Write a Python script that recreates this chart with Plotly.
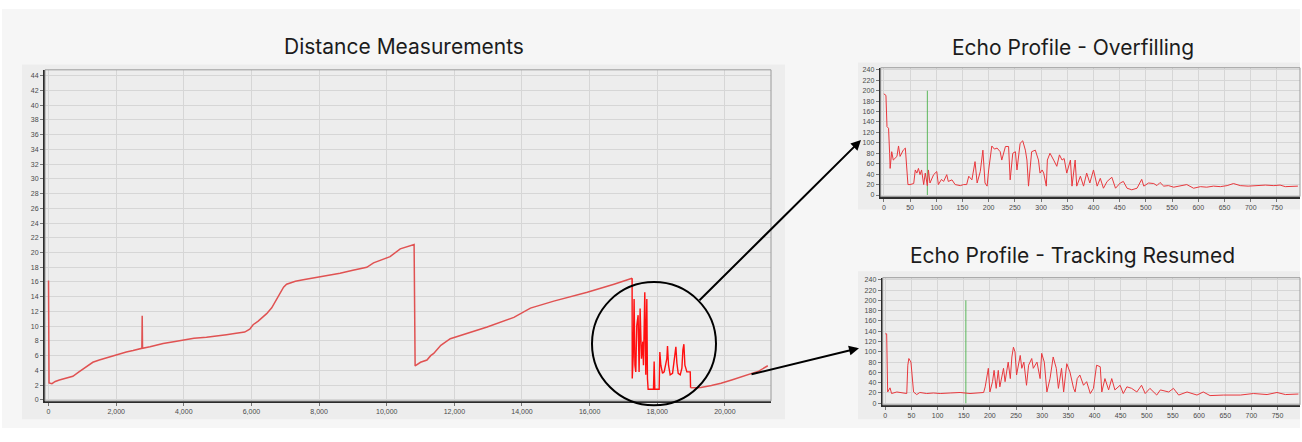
import plotly.graph_objects as go

W, H = 1302, 442

# ---------------- data ----------------
# Distance measurements (main chart)
dist_x = [0, 15, 100, 200, 320, 500, 720, 900, 1100, 1310, 1500, 1700, 2000, 2300, 2500, 2690, 2760, 2770, 2780,
          3000, 3390, 3700, 3980, 4300, 4670, 4800, 5000, 5260, 5500, 5800, 5950, 6050, 6200, 6450, 6600, 6800,
          6950, 7040, 7300, 7530, 8030, 8620, 9000, 9410, 9610, 10100, 10400, 10600, 10810,
          10840, 11000, 11190, 11300, 11390, 11600, 11880, 12280, 12970, 13760, 14250, 14940, 15930, 16720,
          17000, 17256]
dist_y = [16.2, 2.3, 2.2, 2.5, 2.7, 2.9, 3.2, 3.8, 4.4, 5.1, 5.4, 5.7, 6.15, 6.5, 6.7, 6.95, 7.0, 11.4, 7.0,
          7.2, 7.65, 7.9, 8.15, 8.35, 8.5, 8.6, 8.65, 8.85, 9.0, 9.2, 9.6, 10.2, 10.7, 11.7, 12.5, 14.2,
          15.3, 15.7, 16.1, 16.3, 16.7, 17.2, 17.6, 18.0, 18.6, 19.45, 20.5, 20.8, 21.1,
          4.6, 5.1, 5.4, 6.0, 6.3, 7.4, 8.3, 8.85, 9.9, 11.2, 12.45, 13.4, 14.6, 15.7,
          16.1, 16.5]

over_x = [17256, 17260, 17290, 17315, 17340, 17365, 17394, 17434, 17463, 17493, 17533, 17572, 17592, 17631,
          17661, 17691, 17710, 17730, 17888, 17908, 17928, 18056, 18076, 18106, 18155, 18204, 18283, 18303,
          18333, 18382, 18452, 18521, 18550, 18580, 18619, 18679, 18728, 18758, 18787, 18817, 18876, 18975,
          18985]
over_y = [16.5, 2.9, 6.0, 13.7, 4.7, 3.8, 10.1, 11.5, 3.8, 12.4, 5.6, 7.9, 4.7, 14.6,
          3.4, 13.7, 2.9, 1.44, 1.44, 5.2, 1.44, 1.44, 6.5, 4.7, 3.6, 3.8, 5.6, 7.3,
          4.7, 3.4, 3.6, 6.0, 7.2, 5.0, 3.6, 3.4, 4.3, 6.8, 7.55, 4.7, 3.8, 3.8,
          1.65]

resume_x = [18985, 19290, 19600, 19884, 20200, 20675, 21000, 21268]
resume_y = [1.65, 1.67, 1.95, 2.25, 2.7, 3.37, 3.9, 4.63]

dist_xticks = [0, 2000, 4000, 6000, 8000, 10000, 12000, 14000, 16000, 18000, 20000]
dist_yticks = list(range(0, 46, 2))

# Echo profile - overfilling
echo1_x = [0, 4, 6, 9, 11, 12, 15, 18, 25, 28, 31, 37, 41, 43, 46, 50, 57, 60, 63, 66, 69, 72, 76, 79, 83, 85,
           88, 95, 101, 104, 110, 114, 120, 123, 130, 136, 146, 152, 158, 162, 168, 174, 178, 184, 189, 193,
           197, 200, 206, 211, 216, 222, 225, 232, 238, 241, 246, 251, 254, 260, 265, 270, 273, 276, 282, 289,
           295, 298, 302, 305, 310, 312, 317, 324, 330, 335, 340, 344, 349, 356, 359, 365, 368, 375, 381, 387,
           393, 400, 407, 413, 419, 426, 435, 442, 451, 457, 464, 473, 483, 492, 496, 505, 515, 521, 527, 534,
           543, 553, 565, 578, 591, 604, 616, 629, 642, 655, 667, 680, 695, 712, 728, 744, 756, 766, 790]
echo1_y = [194, 191, 131, 128, 80, 51, 83, 67, 74, 94, 74, 86, 90, 67, 20, 20, 22, 48, 42, 51, 39, 48, 20, 42,
           18, 48, 23, 39, 45, 20, 30, 26, 39, 26, 29, 20, 18, 20, 20, 36, 29, 64, 23, 45, 86, 23,
           17, 48, 94, 88, 90, 83, 67, 93, 93, 29, 80, 83, 48, 99, 104, 86, 67, 17, 83, 86,
           67, 42, 48, 42, 17, 67, 80, 67, 55, 77, 67, 70, 42, 67, 17, 67, 17, 36, 17, 42,
           23, 48, 17, 32, 13, 26, 34, 13, 23, 26, 13, 10, 13, 30, 17, 23, 22, 18, 24, 17,
           18, 15, 17, 20, 13, 16, 15, 17, 16, 18, 22, 18, 17, 18, 19, 18, 19, 16, 17]
echo1_marker_x = [83, 83]
echo1_marker_y = [0, 200]

# Echo profile - tracking resumed
echo2_x = [0, 2.6, 4.5, 9, 12, 22, 41, 43, 45, 49, 54, 60, 66, 79, 92, 105, 124, 143, 162, 181, 188,
           191, 197, 200, 205, 208, 212, 216, 219, 226, 229, 235, 239, 242, 245, 248, 251, 258, 261, 265,
           270, 274, 280, 283, 290, 296, 299, 304, 309, 315, 321, 327, 331, 337, 341, 347, 353, 360, 363,
           367, 372, 379, 385, 392, 398, 404, 411, 414, 420, 427, 433, 439, 449, 455, 462, 471, 481, 490,
           497, 506, 519, 526, 542, 551, 561, 577, 596, 608, 621, 647, 679, 704, 730, 749, 765, 790]
echo2_y = [135, 135, 22, 30, 19, 22, 19, 74, 87, 80, 22, 17, 21, 19, 20, 19, 20, 21, 19, 20, 21,
           32, 68, 22, 42, 64, 29, 64, 32, 68, 42, 80, 48, 90, 109, 100, 55, 93, 68, 80,
           35, 74, 87, 68, 80, 48, 97, 80, 22, 48, 90, 68, 29, 68, 22, 77, 61, 29, 22,
           48, 55, 35, 42, 19, 29, 74, 71, 22, 48, 26, 48, 26, 35, 19, 32, 29, 22, 35,
           19, 29, 16, 26, 22, 29, 16, 22, 16, 22, 15, 16, 16, 19, 17, 21, 17, 18]
echo2_marker_x = [154, 154]
echo2_marker_y = [0, 200]

echo_xticks = list(range(0, 800, 50))
echo_yticks = list(range(0, 260, 20))

# ---------------- layout helpers ----------------
def dx(a, b):
    return [a / W, b / W]

def dy(top, bottom):
    return [1 - bottom / H, 1 - top / H]

TICKFONT = dict(family="Liberation Sans, Arial, sans-serif", size=7, color="#4a4a4a")
GRID = "#d6d6d6"
AXLINE = "#2b2b2b"

fig = go.Figure()

fig.add_trace(go.Scatter(x=dist_x, y=dist_y, mode="lines", line=dict(color="#e05252", width=1.5),
                         xaxis="x", yaxis="y", hoverinfo="skip"))
fig.add_trace(go.Scatter(x=over_x, y=over_y, mode="lines", line=dict(color="#ff1010", width=1.4),
                         xaxis="x", yaxis="y", hoverinfo="skip"))
fig.add_trace(go.Scatter(x=resume_x, y=resume_y, mode="lines", line=dict(color="#e05252", width=1.5),
                         xaxis="x", yaxis="y", hoverinfo="skip"))

fig.add_trace(go.Scatter(x=echo1_marker_x, y=echo1_marker_y, mode="lines", line=dict(color="#5cb85c", width=1),
                         xaxis="x2", yaxis="y2", hoverinfo="skip"))
fig.add_trace(go.Scatter(x=echo1_x, y=echo1_y, mode="lines", line=dict(color="#e8383d", width=1),
                         xaxis="x2", yaxis="y2", hoverinfo="skip"))
fig.add_trace(go.Scatter(x=echo2_marker_x, y=echo2_marker_y, mode="lines", line=dict(color="#5cb85c", width=1),
                         xaxis="x3", yaxis="y3", hoverinfo="skip"))
fig.add_trace(go.Scatter(x=echo2_x, y=echo2_y, mode="lines", line=dict(color="#e8383d", width=1),
                         xaxis="x3", yaxis="y3", hoverinfo="skip"))

common_ax = dict(showgrid=True, gridcolor=GRID, gridwidth=1, zeroline=False, showline=True,
                 linecolor=AXLINE, linewidth=2, ticks="outside", ticklen=3, tickcolor="#777777",
                 tickfont=TICKFONT, fixedrange=True)

fig.update_layout(
    width=W, height=H,
    margin=dict(l=0, r=0, t=0, b=0),
    paper_bgcolor="#ffffff",
    plot_bgcolor="#efefef",
    showlegend=False,
    xaxis=dict(domain=dx(45, 771), range=[-104, 21363], tickvals=dist_xticks, tickformat=",d",
               anchor="y", **common_ax),
    yaxis=dict(domain=dy(69.3, 402.7), range=[-0.15, 44.8], tickvals=dist_yticks,
               anchor="x", **common_ax),
    xaxis2=dict(domain=dx(880.7, 1300), range=[-6, 794], tickvals=echo_xticks, anchor="y2", **common_ax),
    yaxis2=dict(domain=dy(67.2, 196.9), range=[-3, 244], tickvals=echo_yticks, anchor="x2", **common_ax),
    xaxis3=dict(domain=dx(882.7, 1300), range=[-5, 793], tickvals=echo_xticks, anchor="y3", **common_ax),
    yaxis3=dict(domain=dy(278.6, 406.6), range=[-3, 244], tickvals=echo_yticks, anchor="x3", **common_ax),
)

def prect(x0, y0, x1, y1, fill, line=None, layer="below"):
    return dict(type="rect", xref="paper", yref="paper", x0=x0 / W, x1=x1 / W, y0=1 - y1 / H, y1=1 - y0 / H,
                fillcolor=fill, line=dict(width=0) if line is None else line, layer=layer)

shapes = [
    prect(2, 8, 1300, 430, "#f6f6f6"),
    prect(22, 64, 785, 421, "#ededed"),
    prect(858, 62, 1300, 210, "#ededed"),
    prect(858, 272, 1300, 421, "#ededed"),
]
# thin frame on top/right of each plot area
for xr, yr in (("x", "y"), ("x2", "y2"), ("x3", "y3")):
    shapes.append(dict(type="rect", xref=xr + " domain", yref=yr + " domain", x0=0, x1=1, y0=0, y1=1,
                       line=dict(color="#9a9a9a", width=1), fillcolor="rgba(0,0,0,0)", layer="above"))
# circle highlighting the overfilling region
shapes.append(dict(type="circle", xref="paper", yref="paper", x0=592 / W, x1=716 / W,
                   y0=1 - 407 / H, y1=1 - 283 / H, line=dict(color="#000000", width=2), layer="above"))

TITLEFONT = dict(family="Inter, Roboto, sans-serif", size=21, color="#1c1c1c")
annotations = [
    dict(text="Distance Measurements", x=404 / W, y=1 - 46 / H, xref="paper", yref="paper",
         showarrow=False, font=TITLEFONT, xanchor="center", yanchor="middle"),
    dict(text="Echo Profile - Overfilling", x=1073 / W, y=1 - 47 / H, xref="paper", yref="paper",
         showarrow=False, font=TITLEFONT, xanchor="center", yanchor="middle"),
    dict(text="Echo Profile - Tracking Resumed", x=1072 / W, y=1 - 256 / H, xref="paper", yref="paper",
         showarrow=False, font=TITLEFONT, xanchor="center", yanchor="middle"),
    dict(text="", x=861 / W, y=1 - 140 / H, xref="paper", yref="paper", showarrow=True,
         axref="pixel", ayref="pixel", ax=698 - 861, ay=301.7 - 140, arrowhead=2, arrowsize=1,
         arrowwidth=2, arrowcolor="#000000"),
    dict(text="", x=859 / W, y=1 - 349.5 / H, xref="paper", yref="paper", showarrow=True,
         axref="pixel", ayref="pixel", ax=750 - 859, ay=376 - 349.5, arrowhead=2, arrowsize=1,
         arrowwidth=2, arrowcolor="#000000"),
]

fig.update_layout(shapes=shapes, annotations=annotations)

fig.write_html("out.html", config={"displayModeBar": False},
               post_script="document.body.style.margin='0';document.body.style.overflow='hidden';")
